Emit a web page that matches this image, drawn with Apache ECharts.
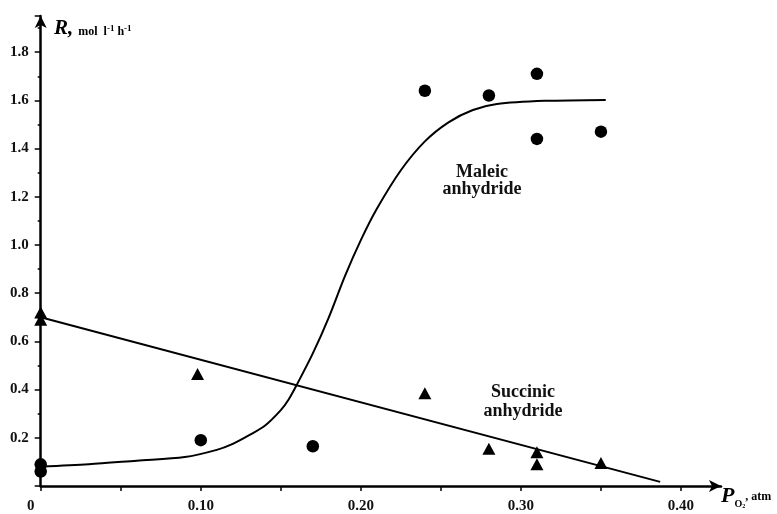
<!DOCTYPE html>
<html>
<head>
<meta charset="utf-8">
<script src="https://cdn.jsdelivr.net/npm/echarts@6/dist/echarts.min.js"></script>
<style>html,body{margin:0;padding:0;background:#fff;}#c{width:777px;height:514px;}</style>
</head>
<body>
<div id="c"></div>
<script>
// Maleic anhydride measured points [P_O2 (atm), R]
const maleicPoints = [[0,0.09],[0,0.06],[0.10,0.19],[0.17,0.165],[0.24,1.64],[0.28,1.62],[0.31,1.71],[0.31,1.44],[0.35,1.47]];
// Succinic anhydride measured points
const succinicPoints = [[0,0.72],[0,0.69],[0.098,0.465],[0.24,0.385],[0.28,0.155],[0.31,0.14],[0.31,0.09],[0.35,0.095]];
// Maleic fitted curve
const maleicCurve = [[0,0.08],[0.03,0.09],[0.06,0.105],[0.09,0.12],[0.11,0.15],[0.12,0.175],[0.13,0.21],[0.14,0.25],[0.15,0.315],[0.155,0.36],[0.16,0.42],[0.17,0.55],[0.18,0.70],[0.19,0.87],[0.20,1.02],[0.21,1.15],[0.225,1.31],[0.24,1.43],[0.255,1.51],[0.27,1.56],[0.285,1.585],[0.315,1.598],[0.353,1.602]];
// Succinic fitted line
const succinicLine = [[0,0.70],[0.387,0.017]];
// Tick labels
const xTickLabels = {'0':'0','0.1':'0.10','0.2':'0.20','0.3':'0.30','0.4':'0.40'};
const yTickLabels = ['0.2','0.4','0.6','0.8','1.0','1.2','1.4','1.6','1.8'];

const chart = echarts.init(document.getElementById('c'), null, {renderer:'canvas'});
const font = 'Liberation Serif';
const ink = '#000';
chart.setOption({
  animation:false,
  backgroundColor:'#fff',
  grid:{left:40.7,right:56,top:16,bottom:28},
  title:[
    {left:49,top:12,text:'{r|R,} {u|mol  l}{s|-1}{u| h}{s|-1}',
     textStyle:{rich:{
       r:{fontFamily:font,fontSize:21,fontWeight:'bold',fontStyle:'italic',color:ink,verticalAlign:'bottom',lineHeight:22},
       u:{fontFamily:font,fontSize:12,fontWeight:'bold',color:ink,verticalAlign:'bottom',lineHeight:22,padding:[0,0,1,0]},
       s:{fontFamily:font,fontSize:9,fontWeight:'bold',color:ink,verticalAlign:'bottom',lineHeight:22,padding:[0,0,6,0]}
     }}},
    {left:716,top:480,text:'{p|P}{o|O}{t|2}{u|, atm}',
     textStyle:{rich:{
       p:{fontFamily:font,fontSize:22,fontWeight:'bold',fontStyle:'italic',color:ink,verticalAlign:'top',lineHeight:24},
       o:{fontFamily:font,fontSize:10,fontWeight:'bold',color:ink,verticalAlign:'bottom',lineHeight:24},
       t:{fontFamily:font,fontSize:6,fontWeight:'bold',color:ink,verticalAlign:'bottom',lineHeight:24},
       u:{fontFamily:font,fontSize:12,fontWeight:'bold',color:ink,verticalAlign:'middle',lineHeight:24}
     }}}
  ],
  xAxis:{
    type:'value',min:0,max:0.425,interval:0.05,
    axisLine:{show:true,symbol:['none','arrow'],symbolSize:[9,12],lineStyle:{color:ink,width:2.5}},
    axisTick:{show:true,inside:false,length:5,lineStyle:{color:ink,width:1.5}},
    splitLine:{show:false},
    axisLabel:{margin:13,fontFamily:font,fontSize:15,fontWeight:'bold',color:'#111',
      formatter:function(v){const k=String(Math.round(v*100)/100);const t=xTickLabels[k];if(t===undefined)return '';return k==='0'?'{z|0}':t;},
      rich:{z:{fontFamily:font,fontSize:15,fontWeight:'bold',color:'#111',padding:[0,20,0,0]}},
      showMaxLabel:false}
  },
  yAxis:{
    type:'value',min:0,max:1.95,interval:0.2,
    axisLine:{show:true,symbol:['none','arrow'],symbolSize:[9,12],lineStyle:{color:ink,width:2.5}},
    axisTick:{show:true,length:6,lineStyle:{color:ink,width:1.5}},
    minorTick:{show:true,splitNumber:2,length:3,lineStyle:{color:ink,width:1.5}},
    splitLine:{show:false},
    axisLabel:{margin:12,fontFamily:font,fontSize:15,fontWeight:'bold',color:'#111',
      formatter:function(v){const s=v.toFixed(1);return yTickLabels.indexOf(s)>=0?s:'';},showMaxLabel:false}
  },
  series:[
    {type:'line',data:maleicCurve,smooth:0.3,symbol:'none',lineStyle:{color:ink,width:2},z:3},
    {type:'line',data:succinicLine,symbol:'none',lineStyle:{color:ink,width:2},z:3},
    {type:'scatter',data:maleicPoints,symbol:'circle',symbolSize:12.5,itemStyle:{color:ink,opacity:1},z:4},
    {type:'scatter',data:succinicPoints,symbol:'triangle',symbolSize:[13,12],itemStyle:{color:ink,opacity:1},z:4}
  ],
  graphic:[
    {type:'text',x:482,y:181,style:{text:'Maleic\nanhydride',align:'center',verticalAlign:'middle',font:'bold 18px "Liberation Serif"',fill:'#111',lineHeight:17}},
    {type:'text',x:523,y:402,style:{text:'Succinic\nanhydride',align:'center',verticalAlign:'middle',font:'bold 18px "Liberation Serif"',fill:'#111',lineHeight:19}}
  ]
});
</script>
</body>
</html>
